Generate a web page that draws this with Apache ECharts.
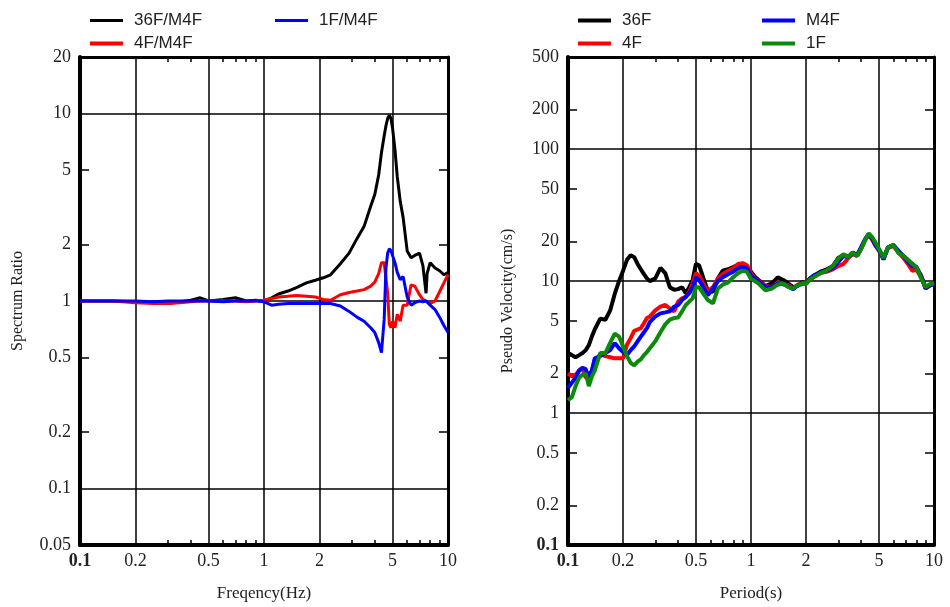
<!DOCTYPE html>
<html>
<head>
<meta charset="utf-8">
<script src="https://cdn.jsdelivr.net/npm/echarts@6/dist/echarts.min.js"></script>
<style>html,body{margin:0;padding:0;background:#fff}#c{width:950px;height:607px}</style>
</head>
<body>
<div id="c"></div>
<script>
// ---------- Left chart: spectrum ratio vs frequency ----------
const freqHz = [0.1,0.15,0.2,0.25,0.3,0.35,0.4,0.45,0.5,0.6,0.7,0.8,0.9,1.0,1.1,1.2,1.35,1.5,1.7,1.9,2.1,2.3,2.6,2.9,3.2,3.5,3.8,4.0,4.2,4.35,4.5,4.6,4.7,4.8,4.9,5.0,5.15,5.3,5.5,5.7,6.0,6.3,6.6,7.0,7.3,7.6,7.7,8.0,8.5,9.0,9.5,10];
const ratio36F = [1.0,1.0,0.99,0.98,0.97,0.99,1.01,1.04,1.0,1.02,1.04,1.0,1.01,1.0,1.04,1.09,1.13,1.18,1.25,1.29,1.33,1.38,1.58,1.8,2.15,2.5,3.2,3.7,4.7,6.2,7.6,8.6,9.4,9.8,9.4,8.3,6.4,4.6,3.4,2.8,1.85,1.7,1.75,1.8,1.55,1.1,1.4,1.6,1.5,1.45,1.38,1.42];
const ratio4F = [1.0,1.0,0.98,0.97,0.97,0.98,0.99,1.0,1.0,1.0,1.0,0.99,1.0,1.01,1.03,1.05,1.06,1.07,1.06,1.05,1.02,1.01,1.08,1.11,1.13,1.15,1.2,1.26,1.4,1.6,1.6,1.62,1.1,0.75,0.72,0.78,0.72,0.85,0.78,0.95,0.95,1.22,1.2,1.08,1.02,1.0,0.98,0.97,1.0,1.12,1.25,1.38];
const ratio1F = [1.0,1.0,1.0,0.99,1.0,1.0,1.0,1.0,1.0,0.99,1.0,1.0,1.0,0.99,0.95,0.96,0.97,0.97,0.97,0.97,0.97,0.97,0.94,0.88,0.82,0.78,0.72,0.68,0.6,0.53,0.8,1.5,1.8,1.9,1.85,1.85,1.6,1.42,1.3,1.35,1.05,0.95,0.98,1.0,0.99,1.0,0.98,0.95,0.9,0.82,0.74,0.68];

// ---------- Right chart: pseudo velocity vs period ----------
const periodS = [0.1,0.105,0.11,0.115,0.12,0.125,0.13,0.135,0.14,0.15,0.16,0.17,0.18,0.19,0.2,0.21,0.22,0.23,0.24,0.25,0.26,0.27,0.28,0.3,0.32,0.34,0.36,0.38,0.4,0.42,0.44,0.46,0.48,0.5,0.52,0.55,0.58,0.62,0.66,0.7,0.75,0.8,0.85,0.9,0.95,1.0,1.05,1.1,1.2,1.3,1.4,1.5,1.6,1.7,1.8,1.9,2.0,2.1,2.2,2.4,2.6,2.8,3.0,3.2,3.4,3.6,3.8,4.0,4.2,4.4,4.6,4.8,5.0,5.3,5.6,6.0,6.4,6.8,7.2,7.6,8.0,8.5,9.0,9.5,10];
const pv36F = [2.85,2.75,2.65,2.75,2.85,3.0,3.27,3.8,4.3,5.2,5.1,6.0,8.0,10.0,12.0,14.5,15.7,15.2,13.5,12.3,11.3,10.5,10.0,10.5,12.6,11.5,9.0,8.6,8.7,9.0,8.1,9.0,10.2,13.5,13.2,10.5,8.5,8.3,10.5,12.0,12.3,12.8,13.3,13.4,12.8,11.8,10.8,10.2,9.2,9.6,10.7,10.2,9.6,9.0,9.2,9.8,9.7,10.5,11.0,11.8,12.3,13.0,15.0,15.8,15.3,16.5,15.8,18.0,20.5,22.8,21.0,19.0,17.5,15.0,18.0,18.8,16.5,15.5,14.5,13.5,12.8,11.0,9.0,9.3,9.6];
const pv4F = [2.0,1.9,1.95,2.1,2.2,1.85,1.9,2.1,2.4,2.8,2.7,2.65,2.6,2.6,2.6,3.3,3.7,4.2,4.3,4.4,4.8,5.25,5.4,6.0,6.4,6.6,6.2,5.9,7.0,7.4,7.6,8.3,9.6,11.5,11.0,9.5,8.4,9.0,10.5,11.3,12.0,12.5,13.5,13.7,13.2,11.5,10.5,10.0,9.2,9.0,9.8,9.5,9.3,8.8,9.4,9.6,9.8,10.2,10.8,11.5,11.8,12.3,13.0,13.5,15.0,16.0,15.5,17.5,20.5,22.5,20.5,18.5,17.0,14.8,17.8,18.5,16.5,15.0,13.5,12.0,12.2,10.8,8.8,9.3,9.6];
const pvM4F = [1.55,1.7,1.85,2.1,2.2,2.15,1.85,2.1,2.6,2.7,2.85,3.0,3.4,3.1,2.9,2.75,3.0,3.2,3.5,3.8,4.1,4.4,4.9,5.4,5.7,5.8,5.9,6.4,6.6,7.2,7.6,8.1,9.0,10.7,10.2,9.0,7.8,8.8,10.0,10.7,11.3,11.8,12.5,12.8,12.5,11.0,10.4,9.9,9.0,9.0,9.6,9.5,9.1,8.7,9.3,9.5,9.6,10.3,11.0,11.6,12.0,12.6,14.0,15.5,15.2,16.3,15.6,18.0,20.8,22.8,20.8,18.6,17.2,14.6,18.0,18.8,17.0,15.5,14.0,13.0,12.8,10.8,8.8,9.3,9.5];
const pv1F = [1.25,1.32,1.6,1.85,1.95,2.0,1.6,1.9,2.1,2.85,2.85,3.4,4.0,3.8,3.2,2.7,2.4,2.3,2.45,2.55,2.75,2.9,3.1,3.5,4.1,4.7,5.1,5.25,5.3,5.9,6.6,7.0,7.4,9.0,9.0,8.0,7.2,6.8,8.8,9.4,9.8,10.7,11.5,12.0,11.8,10.4,10.0,9.6,8.5,8.8,9.4,9.6,9.0,8.8,9.3,9.6,9.5,10.3,10.7,11.5,12.1,13.0,14.8,16.0,15.2,16.5,15.5,17.5,20.5,23.0,21.5,19.5,17.5,15.0,18.0,18.8,16.3,15.5,14.5,13.5,12.8,10.5,9.0,9.5,9.6];

// ---------- Axis tick / label values ----------
const xLabelValues = [0.1,0.2,0.5,1,2,5,10];
const xGridValues = [0.2,0.5,1,2,5];
const xMinorValues = [0.3,0.4,0.6,0.7,0.8,0.9,3,4,6,7,8,9];
const ratioLabelValues = [0.05,0.1,0.2,0.5,1,2,5,10,20];
const ratioGridValues = [0.1,1,10];
const ratioTickValues = [0.2,0.5,2,5];
const pvLabelValues = [0.1,0.2,0.5,1,2,5,10,20,50,100,200,500];
const pvGridValues = [1,10,100];
const pvTickValues = [0.2,0.5,2,5,20,50,200];

const SERIF = "'Liberation Serif','Times New Roman',serif";
const SANS = "'Liberation Sans',Arial,sans-serif";
const TXT = '#222';

function num(v){ return String(+Number(v).toPrecision(6)); }
function fmtBold01(v){ const s = num(v); return s === '0.1' ? '{b|0.1}' : s; }
function fmtPlain(v){ return num(v); }
const rich = {b:{fontFamily:SERIF,fontSize:18,fontWeight:'bold',color:TXT}};

function xAxesFor(gridIndex, name){
  return [
    {type:'log', logBase:10, gridIndex, min:0.1, max:10, position:'bottom',
     name, nameLocation:'middle', nameGap:40,
     nameTextStyle:{fontFamily:SERIF,fontSize:17,color:TXT},
     axisLine:{show:true,onZero:false,lineStyle:{color:'#000',width:4}},
     axisTick:{show:true,inside:true,length:5,customValues:xMinorValues,lineStyle:{color:'#000',width:1.5}},
     axisLabel:{show:true,customValues:xLabelValues,margin:7,formatter:fmtBold01,fontFamily:SERIF,fontSize:18,color:TXT,rich},
     splitLine:{show:false}, minorTick:{show:false}},
    {type:'log', logBase:10, gridIndex, min:0.1, max:10, position:'top',
     axisLine:{show:true,onZero:false,lineStyle:{color:'#000',width:3}},
     axisTick:{show:true,inside:true,length:5,customValues:xMinorValues,lineStyle:{color:'#000',width:1.5}},
     axisLabel:{show:false}, splitLine:{show:false}, minorTick:{show:false}}
  ];
}
function yAxesFor(gridIndex, min, max, labels, ticks, name, fmt, nameGap){
  return [
    {type:'log', logBase:10, gridIndex, min, max, position:'left',
     name, nameLocation:'middle', nameGap, nameRotate:90,
     nameTextStyle:{fontFamily:SERIF,fontSize:16,color:TXT},
     axisLine:{show:true,onZero:false,lineStyle:{color:'#000',width:4}},
     axisTick:{show:true,inside:true,length:9,customValues:ticks,lineStyle:{color:'#000',width:1.5}},
     axisLabel:{show:true,customValues:labels,margin:9,formatter:fmt,fontFamily:SERIF,fontSize:18,color:TXT,rich},
     splitLine:{show:false}, minorTick:{show:false}},
    {type:'log', logBase:10, gridIndex, min, max, position:'right',
     axisLine:{show:true,onZero:false,lineStyle:{color:'#000',width:3}},
     axisTick:{show:true,inside:true,length:9,customValues:ticks,lineStyle:{color:'#000',width:1.5}},
     axisLabel:{show:false}, splitLine:{show:false}, minorTick:{show:false}}
  ];
}
function dataLine(name, xs, ys, color, width, axisIdx){
  return {type:'line', name, xAxisIndex:axisIdx, yAxisIndex:axisIdx,
    data: xs.map((x,i)=>[x, ys[i]]), symbol:'none', showSymbol:false,
    lineStyle:{color,width}, itemStyle:{color}, z:3, silent:true};
}
function gridLines(axisIdx, xv, yv){
  return {type:'line', xAxisIndex:axisIdx, yAxisIndex:axisIdx, data:[], silent:true, z:1,
    markLine:{silent:true, symbol:['none','none'], z:1, label:{show:false},
      lineStyle:{color:'#000',width:1.5,type:'solid'},
      data:[...xv.map(v=>({xAxis:v})), ...yv.map(v=>({yAxis:v}))]}};
}
function leg(name, left, top, h){
  return {data:[{name, icon:'rect'}], left, top, padding:0, itemWidth:33, itemHeight:h, itemGap:0, selectedMode:false,
    textStyle:{fontFamily:SANS,fontSize:17,color:TXT,padding:[0,0,0,6]}};
}

const chart = echarts.init(document.getElementById('c'), null, {renderer:'canvas'});
chart.setOption({
  animation:false,
  backgroundColor:'#fff',
  grid:[
    {left:80, top:57, width:368, height:489},
    {left:568, top:57, width:366, height:488}
  ],
  legend:[
    leg('36F/M4F',90,12,3), leg('1F/M4F',275,12,3), leg('4F/M4F',90,35,4),
    leg('36F',578,12,4), leg('M4F',762,12,4), leg('4F',578,35,4), leg('1F',762,35,4)
  ],
  xAxis:[...xAxesFor(0,'Freqency(Hz)'), ...xAxesFor(1,'Period(s)')],
  yAxis:[...yAxesFor(0,0.05,20,ratioLabelValues,ratioTickValues,'Spectrum Ratio',fmtPlain,54),
         ...yAxesFor(1,0.1,500,pvLabelValues,pvTickValues,'Pseudo Velocity(cm/s)',fmtBold01,52)],
  series:[
    gridLines(0, xGridValues, ratioGridValues),
    dataLine('36F/M4F', freqHz, ratio36F, '#000000', 3, 0),
    dataLine('4F/M4F', freqHz, ratio4F, '#ff0000', 3, 0),
    dataLine('1F/M4F', freqHz, ratio1F, '#0000ff', 3, 0),
    gridLines(2, xGridValues, pvGridValues),
    dataLine('36F', periodS, pv36F, '#000000', 4, 2),
    dataLine('4F', periodS, pv4F, '#ff0000', 4, 2),
    dataLine('M4F', periodS, pvM4F, '#0000ff', 4, 2),
    dataLine('1F', periodS, pv1F, '#0a8a0a', 4, 2)
  ]
});
</script>
</body>
</html>
